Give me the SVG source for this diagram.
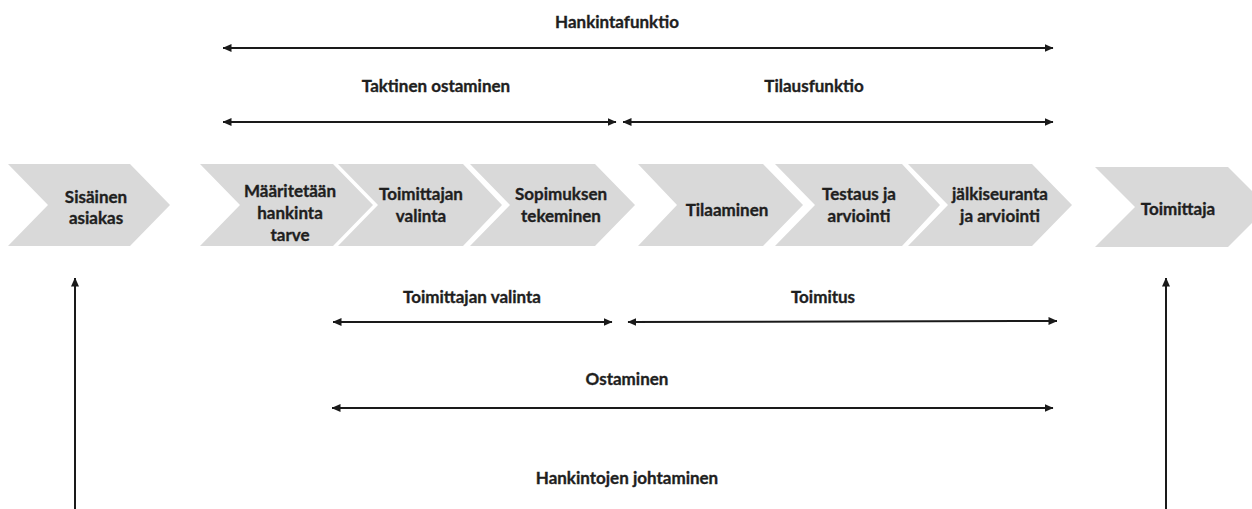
<svg xmlns="http://www.w3.org/2000/svg" width="1252" height="509" viewBox="0 0 1252 509">
<style>
.chev{fill:#d9d9d9}
.t{font-family:Lato,"Liberation Sans",sans-serif;font-weight:700;font-size:17px;fill:#1f1f1f;stroke:#1f1f1f;stroke-width:0.35px;text-anchor:middle}
.c{stroke:#1a1a1a;stroke-width:2;fill:none}
</style>
<defs>
<marker id="ah" viewBox="0 0 9 9" refX="8.5" refY="4.5" markerWidth="9" markerHeight="9" markerUnits="userSpaceOnUse" orient="auto-start-reverse">
<path d="M0,0.5 L9,4.5 L0,8.5 z" fill="#1a1a1a"/>
</marker>
</defs>
<rect width="1252" height="509" fill="#fff"/>
<g id="n1"><polygon class="chev" points="8,164 130,164 170,205 130,246 8,246 48,205"/><text class="t" x="96" y="203">Sisäinen</text><text class="t" x="96" y="224">asiakas</text></g>
<g id="n2"><polygon class="chev" points="200,164 333,164 373,205 333,246 200,246 240,205"/><text class="t" x="290" y="197">Määritetään</text><text class="t" x="290" y="219">hankinta</text><text class="t" x="290" y="241">tarve</text></g>
<g id="n3"><polygon class="chev" points="338,164 463,164 502,205 463,246 338,246 378,205"/><text class="t" x="421" y="200">Toimittajan</text><text class="t" x="421" y="222">valinta</text></g>
<g id="n4"><polygon class="chev" points="470,164 595,164 635,205 595,246 470,246 510,205"/><text class="t" x="561" y="200">Sopimuksen</text><text class="t" x="561" y="222">tekeminen</text></g>
<g id="n5"><polygon class="chev" points="638,164 763,164 803,205 763,246 638,246 677,205"/><text class="t" x="727" y="216">Tilaaminen</text></g>
<g id="n6"><polygon class="chev" points="775,164 902,164 940,205 902,246 775,246 815,205"/><text class="t" x="859" y="200">Testaus ja</text><text class="t" x="859" y="222">arviointi</text></g>
<g id="n7"><polygon class="chev" points="908,164 1032,164 1072,205 1032,246 908,246 948,205"/><text class="t" x="1000" y="200">jälkiseuranta</text><text class="t" x="1000" y="222">ja arviointi</text></g>
<g id="n8"><polygon class="chev" points="1095,167 1228,167 1268,207 1228,247 1095,247 1135,207"/><text class="t" x="1178" y="215">Toimittaja</text></g>
<g id="labels">
<text class="t" x="617" y="28">Hankintafunktio</text>
<text class="t" x="436" y="92">Taktinen ostaminen</text>
<text class="t" x="814" y="92">Tilausfunktio</text>
<text class="t" x="472" y="303">Toimittajan valinta</text>
<text class="t" x="823" y="303">Toimitus</text>
<text class="t" x="627" y="385">Ostaminen</text>
<text class="t" x="627" y="484">Hankintojen johtaminen</text>
</g>
<g id="connectors">
<line class="c" x1="223" y1="48" x2="1053" y2="48" marker-start="url(#ah)" marker-end="url(#ah)"/>
<line class="c" x1="223" y1="122" x2="616" y2="122" marker-start="url(#ah)" marker-end="url(#ah)"/>
<line class="c" x1="623" y1="122" x2="1053" y2="122" marker-start="url(#ah)" marker-end="url(#ah)"/>
<line class="c" x1="333" y1="322" x2="612" y2="322" marker-start="url(#ah)" marker-end="url(#ah)"/>
<line class="c" x1="628" y1="322" x2="1057" y2="321" marker-start="url(#ah)" marker-end="url(#ah)"/>
<line class="c" x1="332" y1="408" x2="1053" y2="408" marker-start="url(#ah)" marker-end="url(#ah)"/>
<line class="c" x1="75" y1="509" x2="75" y2="278" marker-end="url(#ah)"/>
<line class="c" x1="1166" y1="509" x2="1166" y2="278" marker-end="url(#ah)"/>
</g>
</svg>
